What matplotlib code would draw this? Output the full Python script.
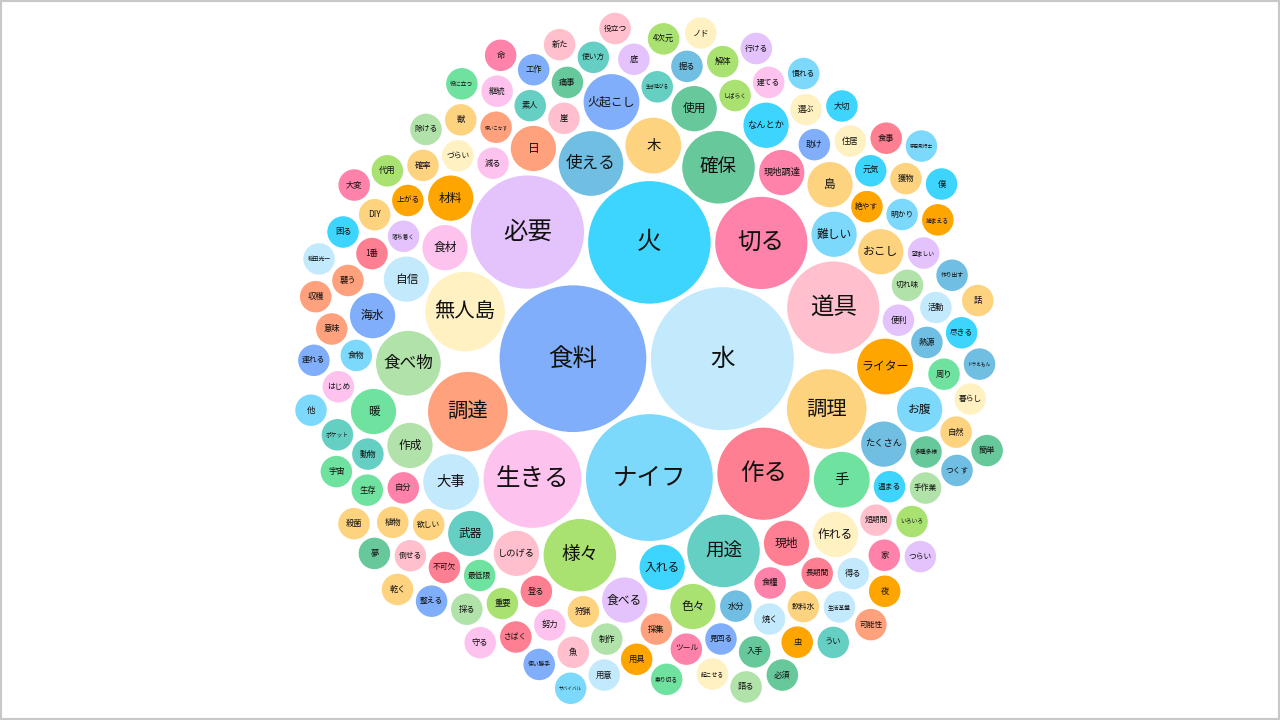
import math
import numpy as np
import matplotlib
matplotlib.use("Agg")
import matplotlib.pyplot as plt
from matplotlib.patches import Circle, Rectangle

plt.rcParams['font.family'] = ['Noto Sans CJK JP', 'DejaVu Sans']

# ---------------- data (input order = packing order) ----------------
words_main = ["食料", "水", "ナイフ", "火", "必要", "生きる", "切る", "作る", "道具",
              "調達", "調理", "無人島", "確保", "様々", "用途", "使える", "食べ物",
              "ライター", "木", "手", "大事",
              "難しい", "入れる", "食べる", "食材", "現地調達", "現地", "しのげる", "日",
              "島", "作れる", "武器", "色々", "火起こし", "使用", "たくさん", "作成", "材料",
              "おこし", "自信", "暖", "海水", "お腹", "なんとか"]
counts_main = [20, 19, 15, 14, 12, 9, 8, 8, 8, 6, 6, 6, 5, 5, 5, 4, 4, 3, 3, 3, 3,
               2, 2, 2, 2, 2, 2, 2, 2, 2, 2, 2, 2, 3, 2, 2, 2, 2, 2, 2, 2, 2, 2, 2]

count_one = 1
words_one = ["減る", "便利", "食糧", "登る", "崖", "採集", "狩猟", "づらい", "痛事", "水分",
             "しばらく", "切れ味", "生き延びる", "絶やす", "欲しい", "最低限", "焼く", "明かり", "助け", "温まる",
             "落ち着く", "上がる", "努力", "自分", "使いこなす", "長期間", "短期間", "飲料水", "選ぶ", "素人",
             "重要", "熱源", "制作", "見回る", "植物", "用具", "周り", "食物", "継続", "元気",
             "はじめ", "ツール", "獣", "活動", "不可欠", "倒せる", "住居", "1番", "多種多様", "掘る",
             "動物", "手作業", "襲う", "望ましい", "生存", "工作", "底", "得る", "確率", "解体",
             "さばく", "家", "建てる", "魚", "代用", "入手", "使い方", "いろいろ", "捕まえる", "採る",
             "DIY", "獲物", "慣れる", "乗り切る", "整える", "作り出す", "困る", "生活基盤", "4次元", "大切",
             "役立つ", "意味", "除ける", "尽きる", "自然", "ポケット", "夢", "殺菌", "暮らし", "ドラえもん",
             "役に立つ", "行ける", "虫", "起こせる", "用意", "命", "サバイバル", "使い勝手", "つらい", "食事",
             "収穫", "守る", "他", "新た", "大変", "乾く", "連れる", "必須", "ノド", "つくす",
             "語る", "稲田光一", "宇宙", "夜", "うい", "宇宙飛行士", "僕", "話", "可能性", "簡単"]

# ---------------- style ----------------
palette = {
    'blue': '#80AEFA', 'lblue': '#C2E9FC', 'sky': '#7DD9FB', 'cyan': '#3DD5FD',
    'lav': '#E4C2FB', 'pink': '#FEC2EE', 'red': '#FE7F91', 'lpink': '#FFBFCC',
    'mag': '#FE82A9', 'cream': '#FFF1C2', 'salmon': '#FEA17C', 'lorange': '#FED380',
    'green': '#66C89B', 'teal': '#66CFC3', 'lime': '#A9E271', 'pgreen': '#B1E2A9',
    'steel': '#70BEE2', 'orange': '#FFA500', 'mint': '#70E2A0',
}
color_groups = {
    'blue': ['食料', '火起こし', '海水', '工作', '助け', '連れる', '整える', '使い勝手', '見回る'],
    'lblue': ['水', '大事', '自信', '稲田光一', '活動', '用意', '得る', '生活基盤', '焼く'],
    'sky': ['ナイフ', '難しい', 'お腹', '慣れる', '宇宙飛行士', '明かり', '食物', '他', 'サバイバル'],
    'cyan': ['火', 'なんとか', '入れる', '大切', '元気', '僕', '困る', '尽きる', '温まる'],
    'lav': ['必要', '食べる', '底', '行ける', '落ち着く', '望ましい', '便利', 'つらい'],
    'pink': ['生きる', '食材', '継続', '減る', '建てる', 'はじめ', '守る', '努力'],
    'red': ['作る', '現地', '食事', '1番', '不可欠', '登る', 'さばく', '長期間'],
    'lpink': ['道具', 'しのげる', '新た', '役立つ', '崖', '倒せる', '魚', '短期間'],
    'mag': ['切る', '現地調達', '命', '大変', '自分', 'ツール', '食糧', '家'],
    'cream': ['無人島', '作れる', 'ノド', '選ぶ', '住居', 'づらい', '暮らし', '起こせる'],
    'salmon': ['調達', '日', '使いこなす', '襲う', '収穫', '意味', '採集', '可能性'],
    'lorange': ['調理', '木', '島', 'おこし', '獣', '確率', 'DIY', '獲物', '話', '自然',
                '殺菌', '植物', '欲しい', '乾く', '狩猟', '飲料水'],
    'green': ['確保', '使用', '痛事', '簡単', '夢', '多種多様', '入手', '必須'],
    'teal': ['用途', '武器', '素人', '使い方', '生き延びる', 'ポケット', '動物', 'うい'],
    'lime': ['様々', '色々', '4次元', '解体', 'しばらく', '代用', '重要', 'いろいろ'],
    'pgreen': ['食べ物', '作成', '除ける', '切れ味', '手作業', '採る', '制作', '語る'],
    'steel': ['使える', 'たくさん', '掘る', '作り出す', '熱源', 'ドラえもん', 'つくす', '水分'],
    'orange': ['ライター', '材料', '上がる', '絶やす', '捕まえる', '夜', '虫', '用具'],
    'mint': ['手', '暖', '役に立つ', '宇宙', '生存', '周り', '最低限', '乗り切る'],
}
word_color = {w: palette[key] for key, ws in color_groups.items() for w in ws}

SIZE = 734.0       # diameter of the packing, px
PADDING = 3.1
CX, CY = 653.0, 355.0


# ---------------- d3-style circle packing (front chain) ----------------
class Node:
    __slots__ = ("c", "next", "prev")

    def __init__(self, c):
        self.c = c
        self.next = None
        self.prev = None


def place(b, a, c):
    dx = b[0] - a[0]
    dy = b[1] - a[1]
    d2 = dx * dx + dy * dy
    if d2:
        a2 = (a[2] + c[2]) ** 2
        b2 = (b[2] + c[2]) ** 2
        if a2 > b2:
            x = (d2 + b2 - a2) / (2 * d2)
            y = math.sqrt(max(0.0, b2 / d2 - x * x))
            c[0] = b[0] - x * dx - y * dy
            c[1] = b[1] - x * dy + y * dx
        else:
            x = (d2 + a2 - b2) / (2 * d2)
            y = math.sqrt(max(0.0, a2 / d2 - x * x))
            c[0] = a[0] + x * dx - y * dy
            c[1] = a[1] + x * dy + y * dx
    else:
        c[0] = a[0] + c[2]
        c[1] = a[1]


def intersects(a, b):
    dr = a[2] + b[2] - 1e-6
    dx = b[0] - a[0]
    dy = b[1] - a[1]
    return dr > 0 and dr * dr > dx * dx + dy * dy


def score(node):
    a = node.c
    b = node.next.c
    ab = a[2] + b[2]
    dx = (a[0] * b[2] + b[0] * a[2]) / ab
    dy = (a[1] * b[2] + b[1] * a[2]) / ab
    return dx * dx + dy * dy


def enclose(chain):
    xs = np.array([c[0] for c in chain])
    ys = np.array([c[1] for c in chain])
    rs = np.array([c[2] for c in chain])
    cx, cy = xs.mean(), ys.mean()
    span = max(xs.max() - xs.min(), ys.max() - ys.min()) + rs.max()
    g = np.linspace(-1, 1, 21)
    best = None
    for _ in range(45):
        gx, gy = np.meshgrid(cx + g * span, cy + g * span)
        f = np.max(np.sqrt((gx[..., None] - xs) ** 2 + (gy[..., None] - ys) ** 2) + rs, axis=-1)
        idx = np.unravel_index(np.argmin(f), f.shape)
        cx, cy, best = gx[idx], gy[idx], f[idx]
        span *= 0.6
    return cx, cy, best


def pack_siblings(circles):
    n = len(circles)
    a = circles[0]
    a[0] = 0.0
    a[1] = 0.0
    b = circles[1]
    a[0] = -b[2]
    b[0] = a[2]
    b[1] = 0.0
    c = circles[2]
    place(b, a, c)
    a = Node(a)
    b = Node(b)
    c = Node(c)
    a.next = c.prev = b
    b.next = a.prev = c
    c.next = b.prev = a
    i = 3
    while i < n:
        cc = circles[i]
        place(a.c, b.c, cc)
        c = Node(cc)
        j = b.next
        k = a.prev
        sj = b.c[2]
        sk = a.c[2]
        restart = False
        while True:
            if sj <= sk:
                if intersects(j.c, c.c):
                    b = j
                    a.next = b
                    b.prev = a
                    restart = True
                    break
                sj += j.c[2]
                j = j.next
            else:
                if intersects(k.c, c.c):
                    a = k
                    a.next = b
                    b.prev = a
                    restart = True
                    break
                sk += k.c[2]
                k = k.prev
            if j is k.next:
                break
        if restart:
            continue
        c.prev = a
        c.next = b
        a.next = c
        b.prev = c
        b = c
        aa = score(a)
        c = c.next
        while c is not b:
            ca = score(c)
            if ca < aa:
                a = c
                aa = ca
            c = c.next
        b = a.next
        i += 1
    chain = [b.c]
    c = b.next
    while c is not b:
        chain.append(c.c)
        c = c.next
    ex, ey, er = enclose(chain)
    for cc in circles:
        cc[0] -= ex
        cc[1] -= ey
    return er


def d3_pack(values):
    radii = [math.sqrt(v) for v in values]
    c1 = [[0.0, 0.0, r] for r in radii]
    r0 = pack_siblings(c1)
    pad = PADDING * r0 / SIZE
    c2 = [[0.0, 0.0, r + pad] for r in radii]
    e = pack_siblings(c2)
    root_r = e + pad
    k = SIZE / (2 * root_r)
    xs = CX + np.array([c[0] for c in c2]) * k
    ys = CY + np.array([c[1] for c in c2]) * k
    rs = np.array(radii) * k
    return xs, ys, rs


words = words_main + words_one
counts = counts_main + [count_one] * len(words_one)
xs, ys, rs = d3_pack(counts)

fig = plt.figure(figsize=(12.8, 7.2), dpi=100)
fig.patch.set_facecolor('white')
ax = fig.add_axes([0, 0, 1, 1])
ax.set_xlim(0, 1280)
ax.set_ylim(720, 0)
ax.set_aspect('equal')
ax.axis('off')


def font_px(word, r):
    units = sum(0.6 if ord(ch) < 128 else 1.0 for ch in word)
    return min(0.5 * r, 24.5, (2 * r - 10) / units)


for w, x, y, r in zip(words, xs, ys, rs):
    ax.add_patch(Circle((x, y), r, facecolor=word_color[w], edgecolor='white', linewidth=1.2))
    ax.text(x, y, w, ha='center', va='center', fontsize=font_px(w, r) * 0.72,
            color='#111111')

fig.patches.append(Rectangle((0, 0), 1, 1, transform=fig.transFigure, fill=False,
                             edgecolor='#c8c8c8', linewidth=3))
fig.savefig("out.png", dpi=100)
